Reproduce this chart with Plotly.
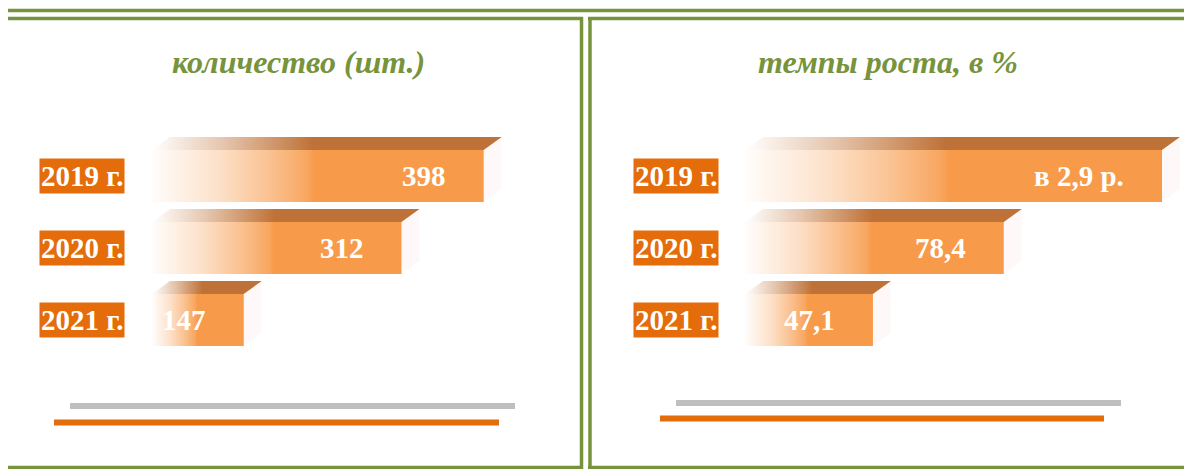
import plotly.graph_objects as go

# данные
YEARS = ["2019 г.", "2020 г.", "2021 г."]
QTY = [398, 312, 147]
TEMPO = [290, 78.4, 47.1]
TEMPO_TEXT = ["в 2,9 р.", "78,4", "47,1"]

W, H = 1184, 469
GREEN = "#77933C"
FRONT = "247,154,74"
TOP = "191,114,55"
LABEL_BG = "#E46C0A"
FONT = "Liberation Serif"

# оси: домен в пикселях и диапазон значений
LEFT_DOM = (152, 540)
LEFT_RANGE = (51, 51 + (540 - 152) / 0.956)
RIGHT_DOM = (745, 1180)
RIGHT_RANGE = (16.5, 16.5 + (1180 - 745) / 4.181)
Y_RANGE = ((H - 176) / 72, -176 / 72)

HALF = 26 / 72      # половина высоты бара
DY = 13 / 72        # глубина по вертикали
DX_PX = 18          # глубина по горизонтали, px
GAP_PX = 36


def px_x(p):
    return p / W


def px_y(p):
    return 1 - p / H


def add_bars(fig, values, texts, dom, rng, xaxis):
    ppu = (dom[1] - dom[0]) / (rng[1] - rng[0])
    dx = DX_PX / ppu
    x0 = rng[0]
    cap = rng[1] - dx
    for i, (v, t) in enumerate(zip(values, texts)):
        xe = min(v, cap)
        top_y, bot_y = i - HALF, i + HALF
        # передняя грань
        fig.add_trace(go.Scatter(
            x=[x0, xe, xe, x0, x0], y=[top_y, top_y, bot_y, bot_y, top_y],
            xaxis=xaxis, yaxis="y", mode="lines", fill="toself",
            line=dict(width=0), hoverinfo="skip", showlegend=False,
            fillgradient=dict(type="horizontal", colorscale=[
                [0, f"rgba({FRONT},0.02)"], [0.2, f"rgba({FRONT},0.3)"],
                [0.35, f"rgba({FRONT},0.6)"], [0.47, f"rgba({FRONT},0.88)"],
                [0.49, f"rgba({FRONT},1)"], [1, f"rgba({FRONT},1)"]])
        ))
        # верхняя грань
        fig.add_trace(go.Scatter(
            x=[x0, xe, xe + dx, x0 + dx, x0],
            y=[top_y, top_y, top_y - DY, top_y - DY, top_y],
            xaxis=xaxis, yaxis="y", mode="lines", fill="toself",
            line=dict(width=0), hoverinfo="skip", showlegend=False,
            fillgradient=dict(type="horizontal", colorscale=[
                [0, f"rgba({TOP},0)"], [0.2, f"rgba({TOP},0.4)"],
                [0.46, f"rgba({TOP},1)"], [1, f"rgba({TOP},1)"]])
        ))
        # боковая грань
        fig.add_trace(go.Scatter(
            x=[xe, xe + dx, xe + dx, xe, xe],
            y=[top_y, top_y - DY, bot_y - DY, bot_y, top_y],
            xaxis=xaxis, yaxis="y", mode="lines", fill="toself",
            line=dict(width=0), fillcolor="rgba(245,215,205,0.15)",
            hoverinfo="skip", showlegend=False
        ))
        fig.add_annotation(
            x=xe - GAP_PX / ppu, y=i, xref=xaxis, yref="y",
            text=f"<b>{t}</b>", showarrow=False, xanchor="right",
            yanchor="middle",
            font=dict(family=FONT, size=29, color="white")
        )


fig = go.Figure()
add_bars(fig, QTY, [str(v) for v in QTY], LEFT_DOM, LEFT_RANGE, "x")
add_bars(fig, TEMPO, TEMPO_TEXT, RIGHT_DOM, RIGHT_RANGE, "x2")

# подписи годов
for cx in (82, 675.5):
    for i, yr in enumerate(YEARS):
        fig.add_annotation(
            x=px_x(cx), y=i, xref="paper", yref="y", text=f"<b>{yr}</b>",
            showarrow=False, bgcolor=LABEL_BG, borderpad=1,
            xanchor="center", yanchor="middle",
            font=dict(family=FONT, size=29, color="white")
        )

# заголовки
for cx, title in ((298, "количество (шт.)"), (888, "темпы роста, в %")):
    fig.add_annotation(
        x=px_x(cx), y=px_y(62), xref="paper", yref="paper",
        text=f"<b><i>{title}</i></b>", showarrow=False,
        xanchor="center", yanchor="middle",
        font=dict(family=FONT, size=32, color=GREEN)
    )

# рамка
frame = [
    (8, 10.5, 1184, 10.5),
    (8, 18.5, 583, 18.5), (581.5, 17, 581.5, 469),
    (8, 467.5, 583, 467.5),
    (588, 18.5, 1184, 18.5), (590, 17, 590, 469),
    (588, 467.5, 1184, 467.5),
]
shapes = [dict(type="line", xref="paper", yref="paper",
               x0=px_x(a), y0=px_y(b), x1=px_x(c), y1=px_y(d),
               line=dict(color=GREEN, width=3.5)) for a, b, c, d in frame]

# декоративные полосы снизу
for a, c, y, col in ((70, 515, 406, "#BFBFBF"), (54, 499, 422.5, "#E46C0A"),
                     (676, 1121, 403, "#BFBFBF"), (660, 1104, 418.5, "#E46C0A")):
    shapes.append(dict(type="line", xref="paper", yref="paper",
                       x0=px_x(a), y0=px_y(y), x1=px_x(c), y1=px_y(y),
                       line=dict(color=col, width=6)))

fig.update_layout(
    width=W, height=H, autosize=False,
    margin=dict(l=0, r=0, t=0, b=0),
    paper_bgcolor="white", plot_bgcolor="white",
    xaxis=dict(domain=[px_x(LEFT_DOM[0]), px_x(LEFT_DOM[1])],
               range=list(LEFT_RANGE), visible=False, anchor="y"),
    xaxis2=dict(domain=[px_x(RIGHT_DOM[0]), px_x(RIGHT_DOM[1])],
                range=list(RIGHT_RANGE), visible=False, anchor="y"),
    yaxis=dict(domain=[0, 1], range=list(Y_RANGE), visible=False),
    shapes=shapes,
)

fig.write_html("out.html", config={"displayModeBar": False},
               post_script="document.body.style.margin='0';")
